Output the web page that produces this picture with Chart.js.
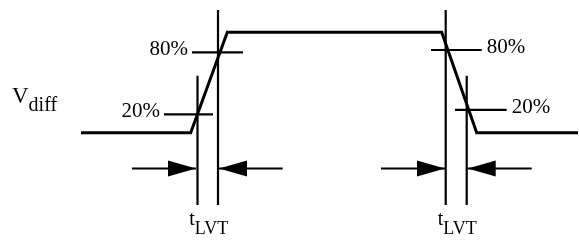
<!DOCTYPE html>
<html>
<head>
<meta charset="utf-8">
<script src="https://cdn.jsdelivr.net/npm/chart.js@4.4.0/dist/chart.umd.min.js"></script>
<style>
  html, body { margin: 0; padding: 0; background: #fff; }
</style>
</head>
<body>
<canvas id="c" width="579" height="244"></canvas>
<script>
// Señal diferencial: tiempo (unidades arbitrarias) vs % de la excursion
var waveT = [8.1, 19.07, 22.73, 44.17, 47.67, 57.8];
var waveV = [0, 0, 100, 100, 0, 0];

// lineas verticales de medicion (t_LVT)
var markT = [19.75, 21.8, 44.57, 46.67];
var markTop = [56.7, 122.2, 122.2, 56.7];
var markBottom = -72;

// niveles 80% / 20%
var levelNames = ['80%', '20%', '80%', '20%'];
var levelV = [80.1, 18.3, 82.4, 22.8];
var levelFrom = [19.2, 16.4, 43.1, 45.5];
var levelTo = [24.3, 21.3, 48.17, 50.67];

// flechas
var arrowV = -35.7;
var arrowTail = [13.2, 28.27, 38.1, 53.17];
var arrowTip = [19.6, 21.9, 44.5, 46.77];

var ylabel = ['V', 'diff'];
var tlabel = ['t', 'LVT'];

function segs(x0, y0, x1, y1) {
  var out = [];
  for (var i = 0; i < x0.length; i++) {
    out.push({x: x0[i], y: y0[i]}, {x: x1[i], y: y1[i]}, {x: x1[i], y: null});
  }
  return out;
}

var wave = waveT.map(function (t, i) { return {x: t, y: waveV[i]}; });
var marks = segs(markT, markTop, markT, markT.map(function () { return markBottom; }));
var levels = segs(levelFrom, levelV, levelTo, levelV);
var av = arrowTail.map(function () { return arrowV; });
var shafts = segs(arrowTail, av, arrowTip, av);

var SERIF = '"Liberation Serif", "Times New Roman", serif';

function subText(ctx, main, sub, x, y, mainSize, subSize, drop) {
  ctx.font = mainSize + 'px ' + SERIF;
  ctx.fillText(main, x, y);
  var w = ctx.measureText(main).width;
  ctx.font = subSize + 'px ' + SERIF;
  ctx.fillText(sub, x + w, y + drop);
  return w + ctx.measureText(sub).width;
}

var extras = {
  id: 'extras',
  afterDatasetsDraw: function (chart) {
    var ctx = chart.ctx, xs = chart.scales.x, ys = chart.scales.y;
    ctx.save();
    ctx.fillStyle = '#000';
    // puntas de flecha
    for (var i = 0; i < arrowTip.length; i++) {
      var tx = xs.getPixelForValue(arrowTip[i]);
      var ty = ys.getPixelForValue(arrowV);
      var d = arrowTip[i] > arrowTail[i] ? 1 : -1;
      ctx.beginPath();
      ctx.moveTo(tx, ty);
      ctx.lineTo(tx - d * 28, ty - 8);
      ctx.lineTo(tx - d * 28, ty + 8);
      ctx.closePath();
      ctx.fill();
    }
    // etiquetas de nivel
    ctx.font = '21px ' + SERIF;
    ctx.textBaseline = 'alphabetic';
    for (var j = 0; j < levelNames.length; j++) {
      var ly = ys.getPixelForValue(levelV[j]) + 3;
      if (j < 2) {
        ctx.textAlign = 'right';
        ctx.fillText(levelNames[j], xs.getPixelForValue(levelFrom[j]) - 4, ly);
      } else {
        ctx.textAlign = 'left';
        ctx.fillText(levelNames[j], xs.getPixelForValue(levelTo[j]) + 5, ly);
      }
    }
    ctx.textAlign = 'left';
    // V_diff
    subText(ctx, ylabel[0], ylabel[1], 12, ys.getPixelForValue(29.3), 23, 20, 8);
    // t_LVT debajo de cada par de marcas
    for (var k = 0; k < markT.length; k += 2) {
      var cx = (xs.getPixelForValue(markT[k]) + xs.getPixelForValue(markT[k + 1])) / 2 + 1;
      ctx.font = '20px ' + SERIF;
      var w1 = ctx.measureText(tlabel[0]).width;
      ctx.font = '18px ' + SERIF;
      var w2 = ctx.measureText(tlabel[1]).width;
      subText(ctx, tlabel[0], tlabel[1], cx - (w1 + w2) / 2, ys.getPixelForValue(-91.9), 20, 18, 9);
    }
    ctx.restore();
  }
};

var ds = function (data, w) {
  return { data: data, borderColor: '#000', borderWidth: w, pointRadius: 0, tension: 0, spanGaps: false, fill: false };
};

new Chart(document.getElementById('c'), {
  type: 'line',
  data: {
    datasets: [ds(wave, 3), ds(marks, 2.2), ds(levels, 2.2), ds(shafts, 2.2)]
  },
  options: {
    responsive: false,
    animation: false,
    layout: { padding: 0 },
    scales: {
      x: { type: 'linear', display: false, min: 0, max: 57.9 },
      y: { type: 'linear', display: false, min: -110.9, max: 132.2 }
    },
    plugins: { legend: { display: false }, tooltip: { enabled: false } }
  },
  plugins: [extras]
});
</script>
</body>
</html>
